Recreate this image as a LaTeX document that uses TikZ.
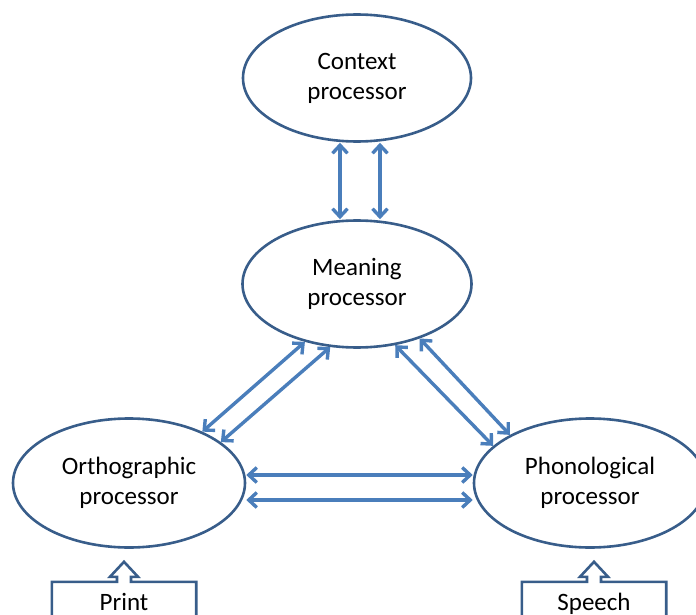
\documentclass[tikz,border=0pt]{standalone}
\usepackage{fontspec}
\setmainfont{Carlito}
\usepackage{tikz}
\usetikzlibrary{shapes.geometric,arrows.meta}
\definecolor{vien}{HTML}{385D8A}
\definecolor{muiten}{HTML}{4A7EBB}

\begin{document}
\begin{tikzpicture}[x=1pt,y=-1pt,
		proc/.style={ellipse,draw=vien,line width=2.6pt,align=center,font=\fontsize{25}{30}\selectfont},
		hop/.style={minimum width=144pt,minimum height=44pt,text height=17pt,text depth=5pt,font=\fontsize{25}{30}\selectfont},
		ten/.style={<->,>={Straight Barb[length=8pt,width=15pt]},draw=muiten,line width=3.4pt}]
			\path[use as bounding box,clip] (0,0) rectangle (696,615);
			% Các khối xử lý
			\node[proc,minimum width=228pt,minimum height=127pt] (ctx) at (357,78) {Context\\processor};
			\node[proc,minimum width=229pt,minimum height=127pt] (mean) at (357,284) {Meaning\\processor};
			\node[proc,minimum width=232pt,minimum height=129pt] (orth) at (129,483) {Orthographic\\processor};
			\node[proc,minimum width=232pt,minimum height=129pt] (phon) at (590,483) {Phonological\\processor};
			% Đầu vào
			\node[hop] (print) at (124,604) {Print};
			\node[hop] (speech) at (594,604) {Speech};
			\draw[vien,line width=2.6pt] (print.south west) -- (print.north west) -- ([xshift=-7pt]print.north) -- ++(0,-5) -- ++(-7,0) -- ++(14,-15) -- ++(14,15) -- ++(-7,0) -- ++(0,5) -- (print.north east) -- (print.south east);
			\draw[vien,line width=2.6pt] (speech.south west) -- (speech.north west) -- ([xshift=-7pt]speech.north) -- ++(0,-5) -- ++(-7,0) -- ++(14,-15) -- ++(14,15) -- ++(-7,0) -- ++(0,5) -- (speech.north east) -- (speech.south east);
			% Mũi tên hai chiều
			\draw[ten] ([xshift=-17pt]ctx.south) -- ([xshift=-17pt]mean.north);
			\draw[ten] ([xshift=23pt]ctx.south) -- ([xshift=23pt]mean.north);
			\draw[ten] (orth.35) -- (mean.228);
			\draw[ten] (orth.24) -- (mean.247);
			\draw[ten] (mean.302) -- (phon.159);
			\draw[ten] (mean.319) -- (phon.149);
			\draw[ten] ([yshift=8pt]orth.east) -- ([yshift=8pt]phon.west);
			\draw[ten] ([yshift=-17pt]orth.east) -- ([yshift=-17pt]phon.west);
		\end{tikzpicture}
\end{document}
